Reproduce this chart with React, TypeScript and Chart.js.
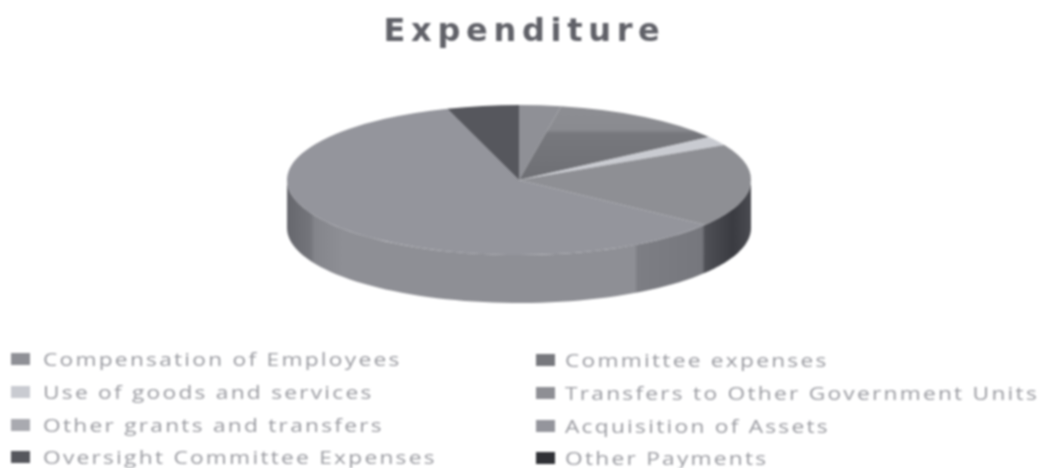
import React, { useEffect, useRef } from "react";
import { Chart, registerables } from "chart.js";

Chart.register(...registerables);

const titleText = "Expenditure";
const categories = [
  "Compensation of Employees",
  "Committee expenses",
  "Use of goods and services",
  "Transfers to Other Government Units",
  "Other grants and transfers",
  "Acquisition of Assets",
  "Oversight Committee Expenses",
  "Other Payments",
];
const values = [2.9, 12.4, 2.0, 17.9, 0, 59.8, 5.0, 0];
const sliceColors = ["#8f9096", "#77787d", "#c9cbd1", "#8e8f94", "#a9aab0", "#94959c", "#56575d", "#303136"];
const legendTextColor = "#999aa0";

const CENTER_X = 519;
const CENTER_Y = 180;
const RX = 232;
const RY = 75;
const DEPTH = 48;
const COMMITTEE_INDEX = 1;

const wallStops: [number, string][] = [
  [0, "#66676d"],
  [0.05, "#74757b"],
  [0.06, "#84858b"],
  [0.12, "#8e8f95"],
  [0.75, "#8e8f95"],
  [0.755, "#7d7e84"],
  [0.895, "#76777d"],
  [0.9, "#4f5056"],
  [0.96, "#3a3b41"],
  [1, "#4a4b51"],
];

const depthPlugin = {
  id: "depthPie",
  beforeDraw(chart: any) {
    chart.ctx.letterSpacing = "5.7px";
  },
  beforeDatasetsDraw(chart: any) {
    const ctx = chart.ctx;
    ctx.letterSpacing = "0px";
    const arcs = chart.getDatasetMeta(0).data;
    const first = arcs[0];
    const sy = RY / first.outerRadius;
    const mx = (a: number) => CENTER_X + RX * Math.cos(a);
    const my = (a: number) => CENTER_Y + RY * Math.sin(a);
    const g = ctx.createLinearGradient(CENTER_X - RX, 0, CENTER_X + RX, 0);
    wallStops.forEach(([p, c]) => g.addColorStop(p, c));
    ctx.save();
    ctx.fillStyle = g;
    arcs.forEach((arc: any) => {
      // the wall is only seen on the front half of the disc
      const ranges = [
        [arc.startAngle, arc.endAngle],
        [arc.startAngle + 2 * Math.PI, arc.endAngle + 2 * Math.PI],
        [arc.startAngle - 2 * Math.PI, arc.endAngle - 2 * Math.PI],
      ];
      ranges.forEach(([s0, e0]) => {
        const s = Math.max(s0, 0);
        const e = Math.min(e0, Math.PI);
        if (e <= s) return;
        ctx.beginPath();
        const n = 60;
        for (let i = 0; i <= n; i++) {
          const a = s + ((e - s) * i) / n;
          ctx.lineTo(mx(a), my(a));
        }
        for (let i = n; i >= 0; i--) {
          const a = s + ((e - s) * i) / n;
          ctx.lineTo(mx(a), my(a) + DEPTH);
        }
        ctx.closePath();
        ctx.fill();
      });
    });
    ctx.restore();
    ctx.save();
    ctx.translate(CENTER_X, CENTER_Y);
    ctx.scale(RX / first.outerRadius, sy);
    ctx.translate(-first.x, -first.y);
  },
  afterDatasetsDraw(chart: any) {
    chart.ctx.restore();
  },
  afterDraw(chart: any) {
    const ctx = chart.ctx;
    const columns = [
      { box: 11, text: 43 },
      { box: 536, text: 565 },
    ];
    const rows = [359, 392, 425, 457];
    const stretch = 1.26;
    ctx.save();
    ctx.font = "18px 'Open Sans'";
    ctx.letterSpacing = "1.8px";
    ctx.textBaseline = "middle";
    chart.data.labels.forEach((label: string, i: number) => {
      const col = columns[i % 2];
      const y = rows[Math.floor(i / 2)] + (i % 2);
      ctx.fillStyle = sliceColors[i];
      ctx.fillRect(col.box, y - 6, 19, 12);
      ctx.fillStyle = legendTextColor;
      ctx.save();
      ctx.translate(col.text, y + 2);
      ctx.scale(stretch, 1);
      ctx.fillText(label, 0, 0);
      ctx.restore();
    });
    ctx.restore();
  },
};

function sliceFill(c: any) {
  const area = c.chart.chartArea;
  if (c.dataIndex !== COMMITTEE_INDEX || !area) return sliceColors[c.dataIndex];
  const cy = (area.top + area.bottom) / 2;
  const g = c.chart.ctx.createLinearGradient(0, cy - 200, 0, cy);
  g.addColorStop(0, "#8d8e93");
  g.addColorStop(0.33, "#8a8b90");
  g.addColorStop(0.38, "#77787d");
  g.addColorStop(1, "#6e6f74");
  return g;
}

export default function App() {
  const ref = useRef<HTMLCanvasElement>(null);
  useEffect(() => {
    const chart = new Chart(ref.current!, {
      type: "pie",
      data: {
        labels: categories,
        datasets: [{ data: values, backgroundColor: sliceFill, borderWidth: 0, clip: false } as any],
      },
      options: {
        responsive: false,
        animation: false,
        radius: 200,
        plugins: {
          legend: { display: false },
          tooltip: { enabled: false },
          title: {
            display: true,
            text: titleText,
            color: "#606168",
            font: { family: "'DejaVu Sans'", size: 32, weight: "bold" },
            padding: { top: 13, bottom: 0 },
          },
        },
      },
      plugins: [depthPlugin],
    } as any);
    return () => chart.destroy();
  }, []);
  return (
    <div style={{ position: "absolute", left: 0, top: 0, width: 1049, height: 468, background: "#fff" }}>
      <canvas ref={ref} width={1049} height={468} style={{ display: "block", filter: "blur(1px)" }} />
    </div>
  );
}
